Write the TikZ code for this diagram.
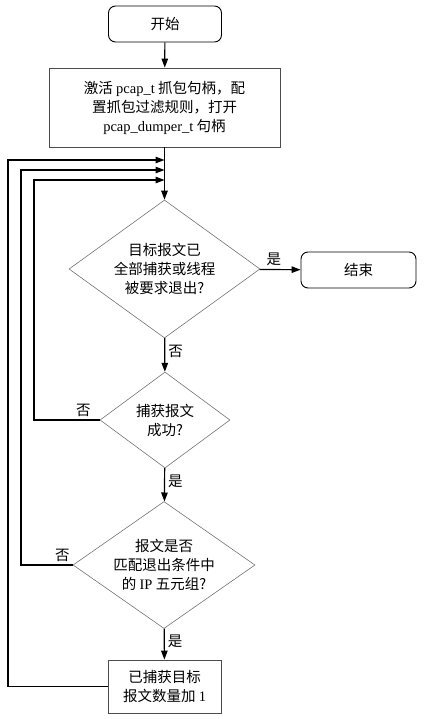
\documentclass[tikz,border=0pt]{standalone}
\usepackage{fontspec}
\setmainfont{Liberation Serif}
\newfontfamily\cjk{Noto Sans CJK SC}
\usetikzlibrary{arrows.meta,calc,positioning,shapes.geometric}
\newcommand{\lt}[1]{{\rmfamily #1}}
\tikzset{
  terminal/.style={draw,rectangle,rounded corners=7pt,line width=0.9pt,minimum width=113pt,minimum height=36pt,align=center},
  block/.style={draw=black!70,rectangle,line width=0.8pt,align=center},
  decision/.style={draw=black!55,diamond,line width=0.6pt,inner sep=0pt,align=center},
  lbl/.style={inner sep=3pt}
}
\begin{document}
\begin{tikzpicture}[x=1pt,y=-1pt,>={Triangle[length=9pt,width=6.5pt]},line width=1.2pt,
  every node/.style={font=\cjk\fontsize{14.5}{19}\selectfont}]
  \useasboundingbox (0,0) rectangle (424,719);
  \node[terminal] (start) at (165,24) {开始};
  \node[block,minimum width=231pt,minimum height=79pt] (init) at (164.5,107.5)
    {激活 \lt{pcap\_t} 抓包句柄，配\\置抓包过滤规则，打开\\\lt{pcap\_dumper\_t} 句柄};
  \node[decision,minimum width=191pt,minimum height=138pt,aspect=1.38] (q1) at (164.5,269)
    {目标报文已\\全部捕获或线程\\被要求退出?};
  \node[terminal,minimum width=115pt] (stop) at (358.5,270) {结束};
  \node[decision,minimum width=130pt,minimum height=96pt,aspect=1.35] (q2) at (165,420)
    {捕获报文\\成功?};
  \node[decision,minimum width=182pt,minimum height=127pt,aspect=1.43] (q3) at (164,565)
    {报文是否\\匹配退出条件中\\的 \lt{IP} 五元组?};
  \node[block,minimum width=113pt,minimum height=53pt] (count) at (164.5,686.5)
    {已捕获目标\\报文数量加 \lt{1}};

  % merge points on the main line
  \coordinate (j1) at (164.5,160);
  \coordinate (j2) at (164.5,170);
  \coordinate (j3) at (164.5,180);
  \coordinate (l1) at (8,0);
  \coordinate (l2) at (21,0);
  \coordinate (l3) at (34,0);

  \draw[->] (start) -- (init);
  \draw[->] (init) -- (q1);
  \draw[->] (q1) -- node[lbl,above,pos=0.35]{是} (stop);
  \draw[->] (q1) -- node[lbl,right,pos=0.4]{否} (q2);
  \draw[->] (q2) -- node[lbl,right,pos=0.4]{是} (q3);
  \draw[->] (q3) -- node[lbl,right,pos=0.4]{是} (count);
  \draw[->] (q2.west) -- node[lbl,above,pos=0.25]{否} (q2.west -| l3) |- (j3);
  \draw[->] (q3.west) -- node[lbl,above,pos=0.2]{否} (q3.west -| l2) |- (j2);
  \draw[->] (count.west) -- (count.west -| l1) |- (j1);
\end{tikzpicture}
\end{document}
